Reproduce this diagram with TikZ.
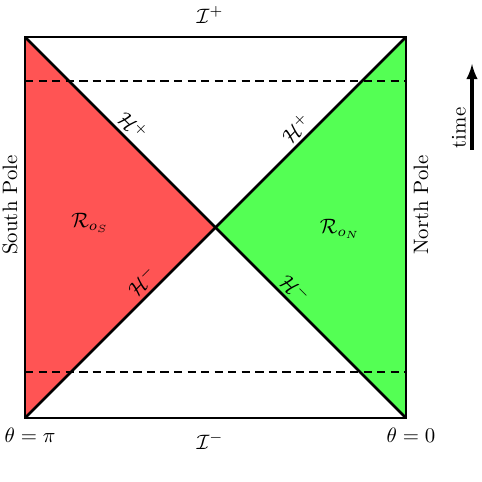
\documentclass[tikz,border=0pt]{standalone}
\usepackage{amsmath}
\usepackage{amssymb}
\usetikzlibrary{arrows}

\begin{document}
\begin{tikzpicture}[x=0.48pt,y=-0.48pt]
		\useasboundingbox (0,0) rectangle (482,482);
		\coordinate (tl) at (25,37);
		\coordinate (tr) at (406,37);
		\coordinate (bl) at (25,418);
		\coordinate (br) at (406,418);
		\coordinate (mid) at (215.5,227.5);
		
		\fill[fill=red!67] (tl) -- (mid) -- (bl) -- cycle;
		\fill[fill=green!67] (tr) -- (mid) -- (br) -- cycle;
		
		\draw[very thick] (tl) rectangle (br);
		\draw[very thick] (tl) -- (br);
		\draw[very thick] (bl) -- (tr);
		
		% cut-off slices
		\draw[very thick, dash pattern=on 4pt off 2.5pt] (25,81) -- (406,81);
		\draw[very thick, dash pattern=on 4pt off 2.5pt] (25,372) -- (406,372);
		
		\node (iplus) at (210,15) {$\mathcal{I}^+$};
		\node (iminus) at (210,441) {$\mathcal{I}^-$};
		\node (thpi) at (30,435) {$\theta=\pi$};
		\node (thzero) at (411,435) {$\theta=0$};
		\node[rotate=90] (south) at (10,205) {South Pole};
		\node[rotate=90] (north) at (421,205) {North Pole};
		
		\node (rs) at (90,223) {$\mathcal{R}_{o_S}$};
		\node (rn) at (340,229) {$\mathcal{R}_{o_N}$};
		
		\node[rotate=-45] (hpl) at (133,126) {$\mathcal{H}^+$};
		\node[rotate=45] (hpr) at (296,128) {$\mathcal{H}^+$};
		\node[rotate=45] (hml) at (142,281) {$\mathcal{H}^-$};
		\node[rotate=-45] (hmr) at (295,289) {$\mathcal{H}^-$};
		
		% time direction
		\coordinate (t0) at (472,150);
		\coordinate (t1) at (472,64);
		\draw[line width=1.5pt, -latex] (t0) -- (t1);
		\node[rotate=90] (time) at (459,128) {time};
	\end{tikzpicture}
\end{document}
